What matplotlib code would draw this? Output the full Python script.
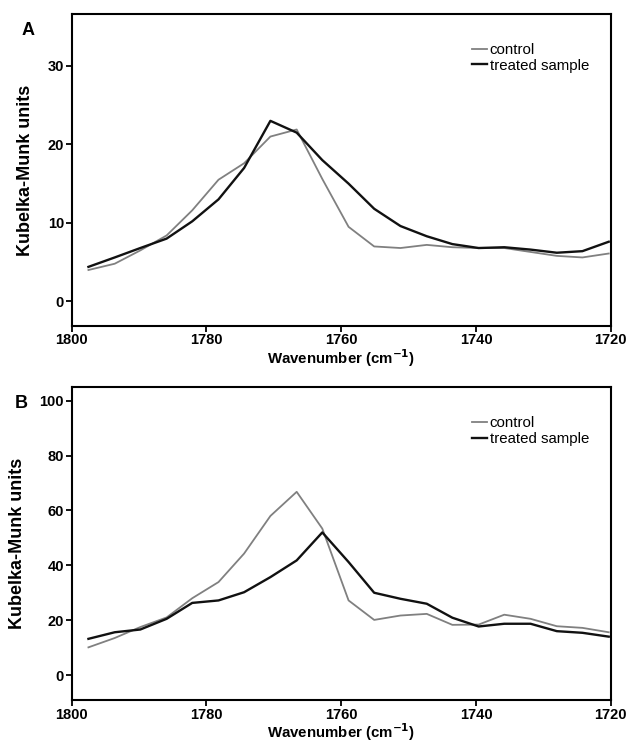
import matplotlib
matplotlib.use("Agg")
import matplotlib.pyplot as plt

plt.rcParams["font.family"] = ["Liberation Sans", "DejaVu Sans"]

# wavenumber grid (cm-1), ~3.86 cm-1 steps
wavenumber = [1797.5, 1793.6, 1789.8, 1785.9, 1782.1, 1778.2, 1774.4, 1770.5,
              1766.6, 1762.8, 1758.9, 1755.1, 1751.2, 1747.3, 1743.5, 1739.6,
              1735.8, 1731.9, 1728.0, 1724.2, 1720.3]

# panel A
control_a = [4.0, 4.8, 6.5, 8.4, 11.6, 15.5, 17.6, 21.0, 21.9, 15.6, 9.5,
             7.0, 6.8, 7.2, 6.9, 6.8, 6.8, 6.3, 5.8, 5.6, 6.1]
treated_a = [4.4, 5.6, 6.8, 8.0, 10.2, 13.0, 17.0, 23.0, 21.5, 18.0, 15.0,
             11.8, 9.6, 8.3, 7.3, 6.8, 6.9, 6.6, 6.2, 6.4, 7.6]

# panel B
control_b = [10.1, 13.5, 17.5, 21.0, 28.0, 33.9, 44.3, 58.0, 66.8, 53.4, 27.2,
             20.1, 21.7, 22.3, 18.3, 18.4, 22.0, 20.5, 17.8, 17.2, 15.6]
treated_b = [13.2, 15.6, 16.6, 20.5, 26.3, 27.2, 30.2, 35.7, 41.8, 52.0, 41.2,
             30.0, 27.8, 26.0, 20.9, 17.7, 18.7, 18.7, 16.0, 15.4, 14.0]

panels = [
    ("A", control_a, treated_a, (-3.1, 36.6), [0, 10, 20, 30], -0.092),
    ("B", control_b, treated_b, (-9.1, 104.9), [0, 20, 40, 60, 80, 100], -0.106),
]
boxes = [
    [0.114, 0.561, 0.8585, 0.420],
    [0.114, 0.0566, 0.8585, 0.4214],
]

fig = plt.figure(figsize=(6.28, 7.42), dpi=100)

for (letter, ctrl, trt, ylim, yticks, lx), box in zip(panels, boxes):
    ax = fig.add_axes(box)
    ax.plot(wavenumber, ctrl, color="#808080", lw=1.3, label="control")
    ax.plot(wavenumber, trt, color="#111111", lw=1.7, label="treated sample")
    ax.set_xlim(1800, 1720)
    ax.set_ylim(*ylim)
    ax.set_xticks([1800, 1780, 1760, 1740, 1720])
    ax.set_yticks(yticks)
    for s in ax.spines.values():
        s.set_linewidth(1.5)
    ax.tick_params(direction="out", length=4, width=1.3, labelsize=10.5, pad=1.5)
    for lab in ax.get_xticklabels() + ax.get_yticklabels():
        lab.set_fontweight("bold")
    ax.set_xlabel("Wavenumber (cm$^{\\mathbf{-1}}$)", fontsize=10.8,
                  fontweight="bold", labelpad=0)
    ax.set_ylabel("Kubelka-Munk units", fontsize=13, fontweight="bold",
                  labelpad=10)
    ax.legend(loc="upper right", bbox_to_anchor=(0.985, 0.95),
              frameon=False, fontsize=10.8, handlelength=1.0,
              handletextpad=0.2, labelspacing=0.1)
    ax.text(lx, 1.0 - 16 / 313, letter, transform=ax.transAxes,
            fontsize=13, fontweight="bold", ha="left", va="center")

fig.savefig("out.png", dpi=100)
